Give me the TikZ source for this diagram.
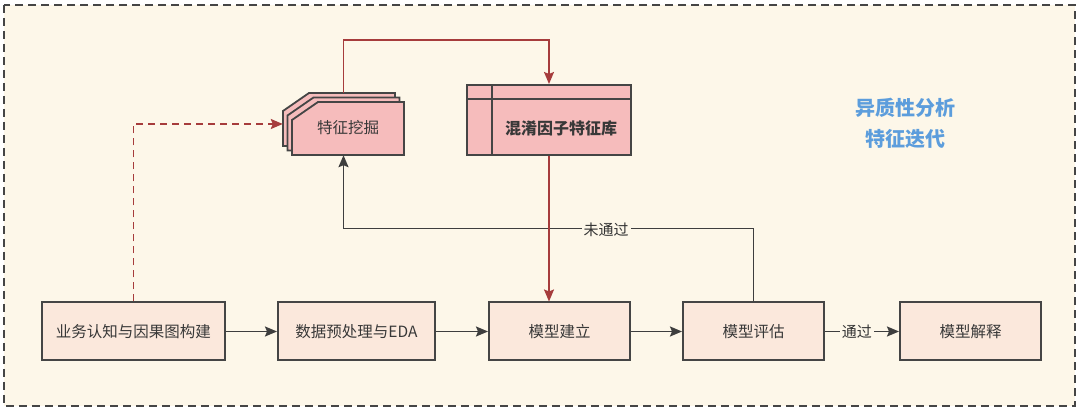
\documentclass[tikz,border=0pt]{standalone}
\usepackage{fontspec}
\setmainfont{Noto Sans CJK SC}
\usetikzlibrary{arrows.meta}
\definecolor{bg}{HTML}{FDF7E9}
\definecolor{boxfill}{HTML}{FBE8DC}
\definecolor{pinkfill}{HTML}{F6BCBC}
\definecolor{edge}{HTML}{454545}
\definecolor{redline}{HTML}{A63C3C}
\definecolor{bluetext}{HTML}{5C9DDC}
\tikzset{
  procbox/.style={draw=edge, fill=boxfill, line width=2pt, minimum height=58pt,
    font=\fontsize{15.5}{18}\selectfont, text=black!78, inner sep=0pt},
  layerbox/.style={draw=edge, fill=pinkfill, line width=1.8pt},
  darrow/.style={draw=edge!90!black, line width=1.8pt, -{Stealth[length=12pt,width=10pt,inset=2pt]}},
  redarrow/.style={draw=redline, line width=1.8pt, -{Stealth[length=12pt,width=10pt,inset=2pt]}},
  reddash/.style={redarrow, dash pattern=on 7pt off 5pt},
  lbl/.style={fill=bg, inner sep=2pt, font=\fontsize{15}{17}\selectfont, text=black!80},
}
\begin{document}
\begin{tikzpicture}[x=1pt,y=-1pt]
\useasboundingbox (0,0) rectangle (1080,411);
\fill[white] (0,0) rectangle (1080,411);
\draw[fill=bg, draw=edge, line width=1.8pt, dash pattern=on 8pt off 5pt] (4,5) rectangle (1075,406);

% bottom row
\node[procbox, minimum width=183pt] (b1) at (133.5,331.5) {业务认知与因果图构建};
\node[procbox, minimum width=157pt] (b2) at (356.5,331.5) {数据预处理与EDA};
\node[procbox, minimum width=141pt] (b3) at (559.5,331.5) {模型建立};
\node[procbox, minimum width=141pt] (b4) at (753.5,331.5) {模型评估};
\node[procbox, minimum width=141pt] (b5) at (970.5,331.5) {模型解释};

% feature mining (stacked chamfered shape)
\foreach \d in {9,4.5,0}{
  \path[layerbox] (292-\d,120-\d) -- (318-\d,102-\d) -- (404-\d,102-\d) -- (404-\d,155-\d) -- (292-\d,155-\d) -- cycle;
}
\node[minimum width=121pt, minimum height=62pt, inner sep=0pt] (fm) at (343.5,124) {};
\node[font=\fontsize{15.5}{18}\selectfont, text=black!78] (fmtext) at (348,128) {特征挖掘};

% confounder feature store
\node[draw=edge, fill=pinkfill, line width=2pt, minimum width=164pt, minimum height=70pt, inner sep=0pt] (db) at (549,120) {};
\draw[edge, line width=1.8pt] (492,85) -- (492,155);
\draw[edge, line width=1.8pt] (467,99) -- (631,99);
\node[font=\bfseries\fontsize{16}{18}\selectfont, text=black!78] (dbtext) at (561,128) {混淆因子特征库};

% note
\node[align=center, text=bluetext, font=\bfseries\fontsize{20}{31}\selectfont] (note) at (905,123) {异质性分析\\特征迭代};

% connectors
\draw[redarrow] (fm.north) -- ++(0,-53) -| (db.north);
\draw[darrow] (b4.north) -- ++(0,-73) -| (fm.south);
\node[lbl] (fail) at (606,229.5) {未通过};
\draw[redarrow] (db.south) -- (db.south |- b3.north);
\draw[reddash] (b1.north) |- (fm.west);
\draw[darrow] (b1) -- (b2);
\draw[darrow] (b2) -- (b3);
\draw[darrow] (b3) -- (b4);
\draw[darrow] (b4) -- node[lbl, pos=0.43] (pass) {通过} (b5);
\end{tikzpicture}
\end{document}
